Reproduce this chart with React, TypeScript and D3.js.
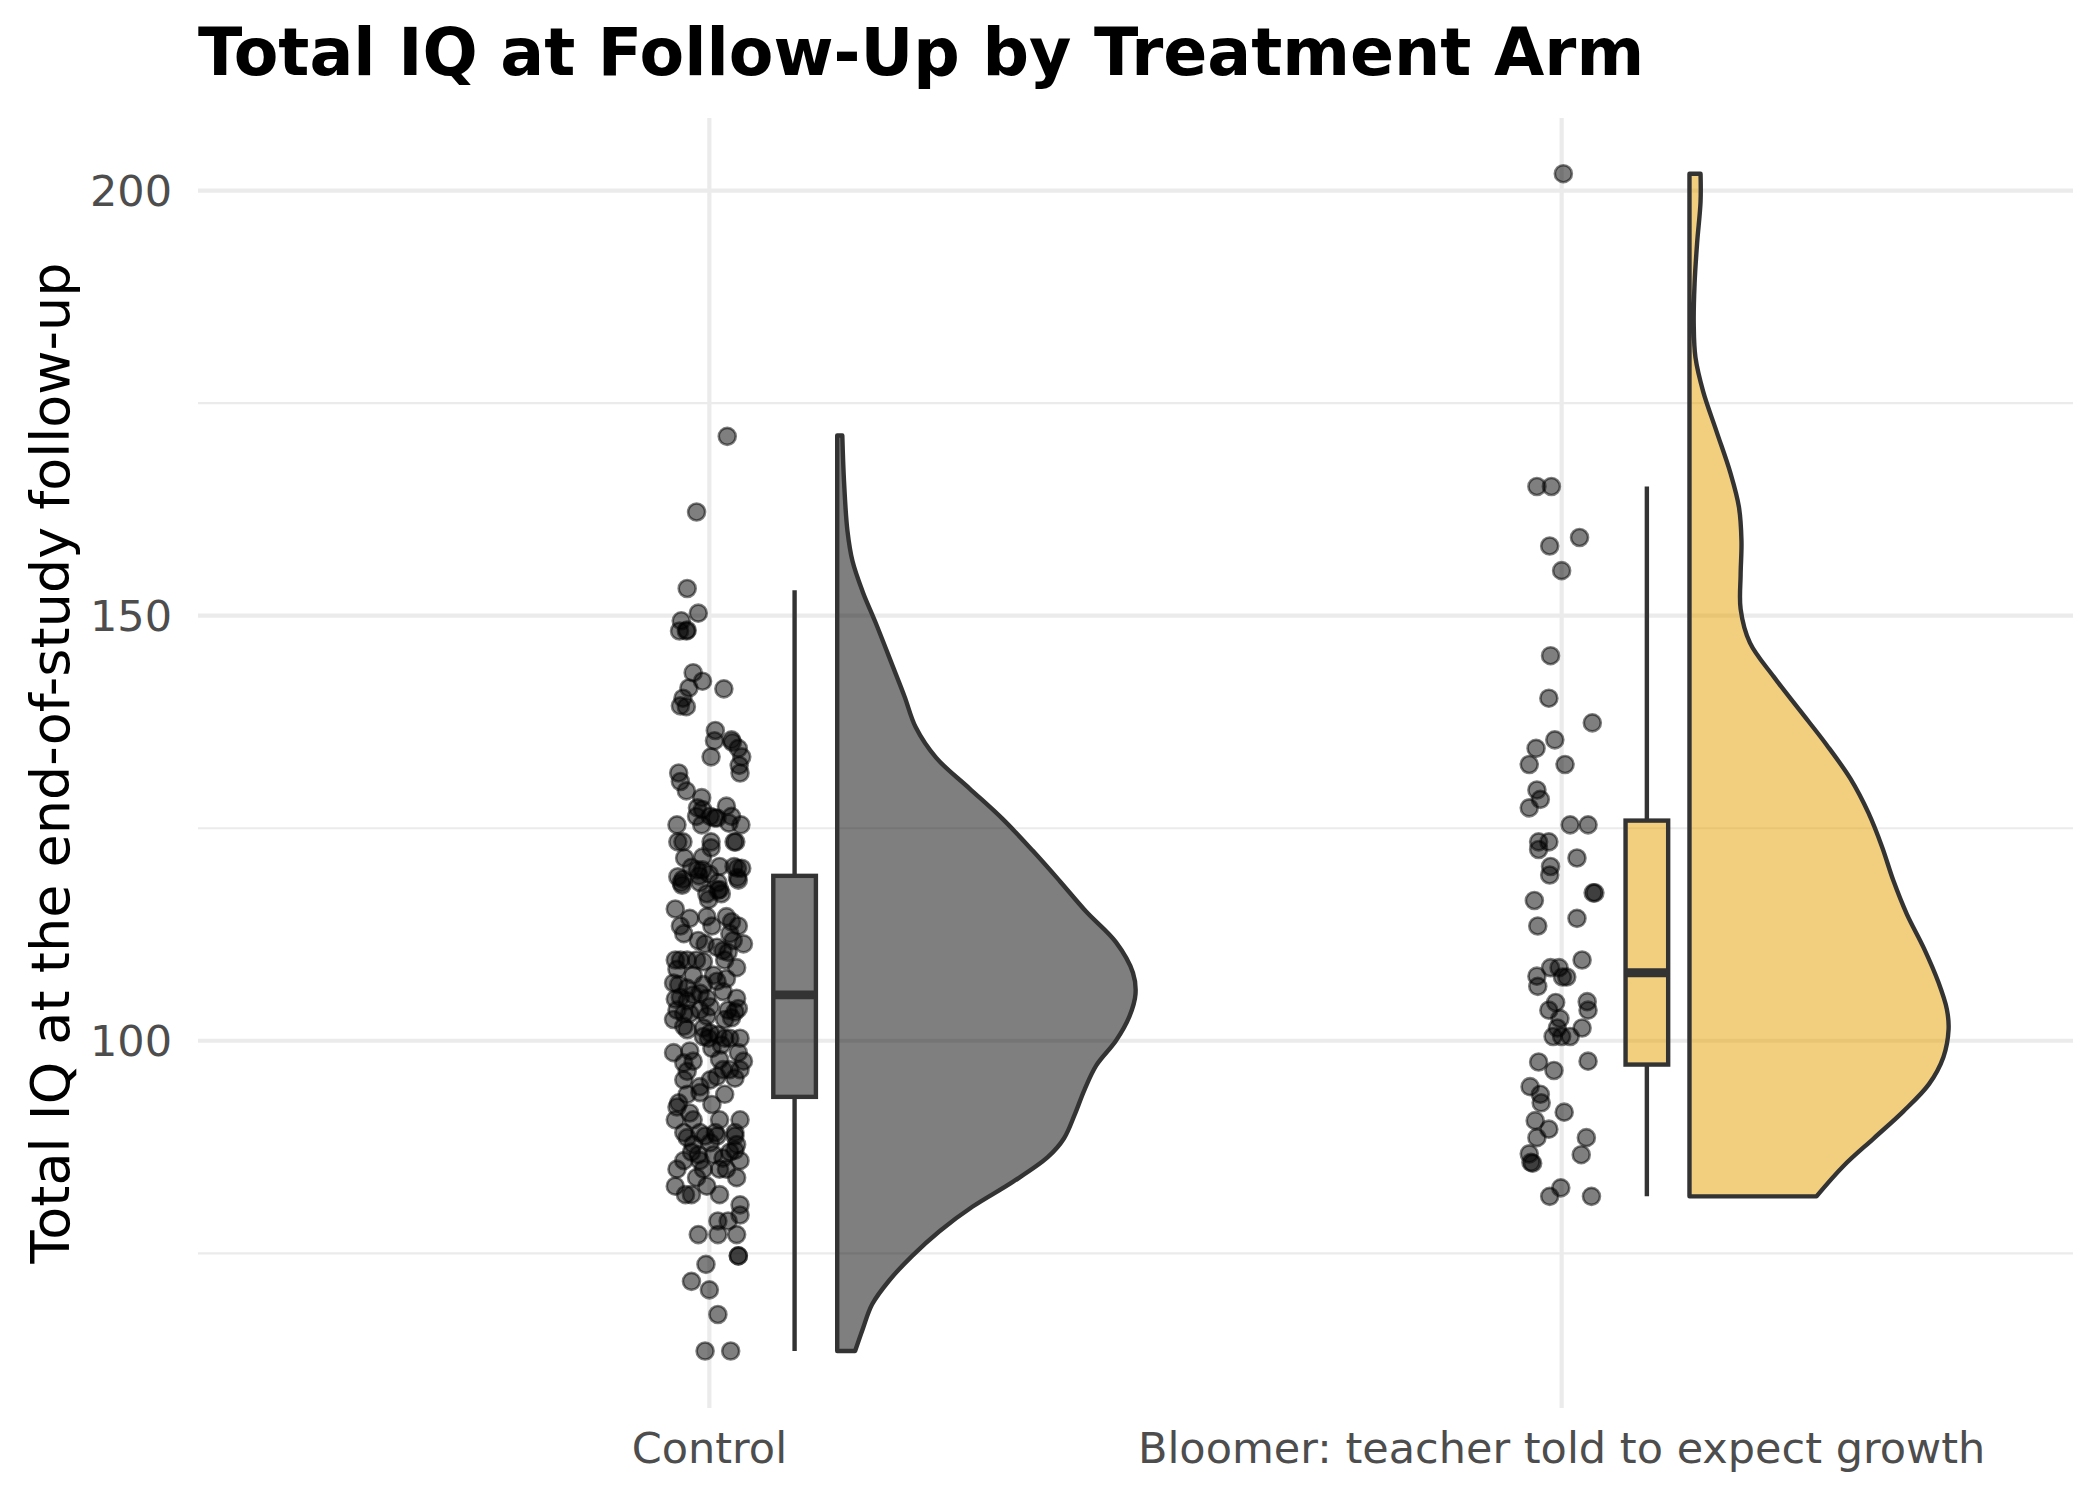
import React from 'react';
import * as d3 from 'd3';

// groups on the x axis
const categories = ['Control', 'Bloomer: teacher told to expect growth'];
const fills = ['#000000', '#E69F00'];

const yTicks = [100, 150, 200];
const yMinorTicks = [75, 125, 175];

// box stats: [lowWhisker, q1, median, q3, highWhisker]
const controlBox = [63.5, 93.4, 105.4, 119.4, 153.0];
const bloomerBox = [81.7, 97.2, 108.0, 125.9, 165.2];

// half-violin outline: [iq, half width in category units]
const controlDensity = [
  [171.2, 0.006], [165.8, 0.008], [160.0, 0.012], [156.4, 0.018], [152.8, 0.03], [149.2, 0.045],
  [144.1, 0.065], [140.5, 0.079], [136.9, 0.092], [133.3, 0.116], [129.7, 0.155], [126.1, 0.194],
  [122.4, 0.229], [118.8, 0.261], [115.2, 0.292], [111.6, 0.327], [108.0, 0.347], [105.5, 0.35],
  [102.9, 0.343], [100.0, 0.327], [97.1, 0.304], [94.2, 0.29], [91.4, 0.279], [88.5, 0.266],
  [86.3, 0.247], [83.4, 0.206], [80.5, 0.159], [77.6, 0.12], [74.7, 0.088], [71.8, 0.061],
  [69.0, 0.041], [66.1, 0.03], [63.5, 0.021],
];
const bloomerDensity = [
  [202.0, 0.013], [198.7, 0.013], [193.9, 0.009], [189.1, 0.006], [184.3, 0.005], [180.4, 0.007],
  [176.4, 0.016], [171.6, 0.032], [166.8, 0.048], [162.8, 0.058], [158.8, 0.061], [154.8, 0.06],
  [150.8, 0.06], [146.8, 0.071], [142.8, 0.099], [138.8, 0.13], [134.8, 0.161], [130.8, 0.189],
  [126.8, 0.21], [122.8, 0.226], [118.9, 0.239], [114.9, 0.255], [110.9, 0.275], [106.9, 0.292],
  [103.7, 0.302], [101.3, 0.304], [98.1, 0.298], [94.9, 0.281], [91.7, 0.251], [88.5, 0.216],
  [85.3, 0.181], [81.7, 0.149],
];

// jittered raw points: [x jitter, iq]
const controlPoints = [
  [0.021, 171.1], [-0.015, 162.2], [-0.026, 153.2], [-0.013, 150.3], [-0.033, 149.4],
  [-0.035, 148.2], [-0.027, 148.2], [-0.026, 148.3], [-0.019, 143.3], [-0.008, 142.3],
  [-0.024, 141.5], [0.017, 141.4], [-0.031, 140.3], [-0.034, 139.4], [-0.027, 139.3],
  [0.007, 136.5], [0.006, 135.3], [0.026, 135.4], [0.027, 135.1], [0.034, 134.4],
  [0.038, 133.4], [0.035, 132.4], [0.036, 131.5], [0.002, 133.4], [-0.036, 131.5],
  [-0.034, 130.5], [-0.027, 129.4], [-0.009, 128.6], [-0.014, 127.4], [-0.008, 127.2],
  [0.02, 127.6], [0.001, 126.4], [0.006, 126.2], [0.009, 126.2], [0.026, 126.4],
  [-0.038, 125.4], [0.037, 125.4], [-0.015, 126.4], [-0.009, 125.4], [0.023, 125.6],
  [-0.037, 123.4], [-0.031, 123.4], [0.002, 123.4], [0.029, 123.4], [0.031, 123.4],
  [0.002, 122.7], [-0.029, 121.5], [-0.008, 121.6], [-0.021, 120.4], [-0.014, 120.1],
  [-0.008, 120.1], [0.012, 120.5], [0.029, 120.5], [0.033, 120.3], [0.038, 120.3],
  [-0.037, 119.3], [-0.031, 119.0], [-0.033, 118.6], [-0.012, 119.4], [0.0, 119.6],
  [0.033, 119.2], [0.01, 118.6], [0.012, 117.8], [-0.003, 117.3],
  [-0.032, 118.3], [-0.011, 118.6], [0.01, 117.7], [0.014, 117.3], [0.034, 118.9],
  [-0.04, 115.5], [-0.023, 114.4], [-0.003, 114.6], [0.02, 114.6], [0.026, 114.0],
  [-0.034, 113.5], [-0.03, 112.6], [0.003, 113.5], [0.034, 113.5], [-0.001, 116.6],
  [0.024, 112.6], [0.028, 111.8], [0.04, 111.4], [-0.013, 111.8], [-0.005, 111.4],
  [0.009, 111.0], [0.016, 110.6], [0.022, 110.4], [-0.04, 109.5], [-0.034, 109.5],
  [-0.026, 109.5], [-0.015, 109.5], [-0.007, 109.3], [0.018, 109.5], [-0.038, 108.4],
  [0.032, 108.6], [-0.019, 107.7], [0.005, 107.7], [0.02, 107.3], [-0.042, 106.8],
  [-0.036, 106.6], [-0.026, 106.2], [-0.007, 106.6], [0.009, 107.0], [-0.019, 105.4],
  [-0.011, 105.6], [-0.003, 105.0], [0.016, 105.8], [0.032, 105.0], [-0.04, 104.9],
  [-0.034, 105.1], [-0.026, 104.7], [-0.038, 103.6], [-0.03, 103.2], [-0.011, 103.6],
  [0.001, 104.0], [0.022, 103.6], [0.03, 103.4], [0.034, 103.8], [-0.042, 102.5],
  [-0.03, 101.7], [-0.023, 103.2], [-0.003, 102.9], [0.018, 102.5], [0.026, 102.7],
  [-0.026, 101.3], [-0.007, 101.5], [0.001, 100.9], [0.01, 100.7], [0.018, 100.3],
  [0.036, 100.3], [-0.007, 100.5], [-0.001, 100.3], [0.003, 99.1], [0.014, 99.5],
  [0.024, 100.3], [-0.042, 98.6], [-0.023, 98.8], [-0.019, 97.6], [0.012, 97.8],
  [0.034, 98.6], [0.04, 97.6], [-0.03, 97.4], [-0.026, 96.4], [0.016, 96.6],
  [0.024, 96.6], [0.036, 96.6], [-0.03, 95.4], [-0.011, 94.6], [0.001, 95.4],
  [0.009, 95.8], [0.03, 95.6], [-0.026, 93.7], [-0.011, 93.9], [0.003, 92.5],
  [0.018, 93.7], [-0.036, 92.7], [-0.038, 92.2], [-0.04, 90.7], [-0.023, 91.5],
  [-0.019, 90.7], [0.012, 90.7], [0.036, 90.7], [-0.03, 89.2], [-0.011, 89.2],
  [0.007, 89.2], [0.03, 89.2],
  [-0.026, 88.6], [-0.005, 88.8], [0.009, 88.8], [0.03, 88.8], [-0.019, 87.8],
  [0.001, 88.0], [0.032, 87.8], [-0.021, 86.9], [-0.013, 86.6], [0.024, 86.9],
  [0.03, 87.1], [-0.03, 85.9], [-0.011, 85.9], [0.005, 86.6], [0.016, 86.2],
  [0.036, 85.9], [-0.038, 84.9], [-0.007, 84.9], [0.012, 84.9], [0.02, 84.9],
  [-0.015, 83.9], [0.032, 83.9], [-0.04, 82.9], [-0.003, 82.9], [-0.028, 81.9],
  [-0.021, 81.9], [0.012, 81.9], [0.036, 80.7], [0.036, 79.5], [0.01, 78.8],
  [0.022, 78.8], [-0.013, 77.2], [0.01, 77.2], [0.032, 77.2], [0.034, 74.7],
  [0.034, 74.7], [-0.004, 73.7], [-0.021, 71.7], [0.0, 70.7], [0.01, 67.8],
  [-0.005, 63.5], [0.025, 63.5],
];

const bloomerPoints = [
  [0.002, 202.0],
  [-0.029, 165.2], [-0.012, 165.2], [0.021, 159.2], [-0.014, 158.2], [0.0, 155.3],
  [-0.013, 145.3], [-0.015, 140.3], [0.036, 137.4], [-0.008, 135.4], [-0.03, 134.4],
  [-0.038, 132.5], [0.004, 132.5], [-0.029, 129.5], [-0.025, 128.4], [-0.038, 127.4],
  [0.01, 125.4], [0.031, 125.4], [-0.027, 123.4], [-0.015, 123.4], [-0.027, 122.5],
  [0.018, 121.5], [-0.013, 120.5], [-0.014, 119.5], [0.037, 117.4], [0.039, 117.4],
  [-0.032, 116.5], [0.018, 114.4], [-0.028, 113.5], [0.024, 109.5], [-0.029, 107.6],
  [-0.028, 106.4], [-0.013, 108.6], [-0.003, 108.6], [0.001, 107.5], [0.006, 107.5],
  [-0.007, 104.5], [-0.015, 103.6], [0.03, 104.6], [0.031, 103.6], [-0.002, 102.6],
  [-0.005, 101.5], [0.024, 101.5], [-0.01, 100.5], [0.0, 100.5], [0.01, 100.5],
  [-0.027, 97.5], [0.031, 97.6], [-0.009, 96.5], [-0.037, 94.6], [-0.025, 93.7],
  [-0.024, 92.7], [0.003, 91.6], [-0.031, 90.6], [-0.015, 89.6], [-0.029, 88.6],
  [0.029, 88.6], [0.023, 86.6], [-0.038, 86.7], [-0.036, 85.7], [-0.034, 85.6],
  [-0.001, 82.7], [-0.014, 81.7], [0.035, 81.7],
];

const groups = [
  { box: controlBox, density: controlDensity, points: controlPoints },
  { box: bloomerBox, density: bloomerDensity, points: bloomerPoints },
];

const W = 2100;
const H = 1500;
const panel = { left: 198, right: 2073, top: 118, bottom: 1408 };
const ink = '#333333';
const font = '"DejaVu Sans", Verdana, sans-serif';

const App: React.FC = () => {
  const x = d3.scaleLinear().domain([0.4, 2.6]).range([panel.left, panel.right]);
  const y = d3.scaleLinear().domain([56.8, 208.55]).range([panel.bottom, panel.top]);

  const violinOffset = 0.15;
  const boxOffset = 0.1;
  const boxHalf = 0.025;

  return (
    <svg width={W} height={H} style={{ position: 'absolute', left: 0, top: 0 }}>
      <rect width={W} height={H} fill="#ffffff" />

      {/* grid */}
      {yMinorTicks.map((t) => (
        <line key={'m' + t} x1={panel.left} x2={panel.right} y1={y(t)} y2={y(t)} stroke="#EBEBEB" strokeWidth={2.2} />
      ))}
      {yTicks.map((t) => (
        <line key={'g' + t} x1={panel.left} x2={panel.right} y1={y(t)} y2={y(t)} stroke="#EBEBEB" strokeWidth={4.2} />
      ))}
      {categories.map((c, i) => (
        <line key={'v' + c} x1={x(i + 1)} x2={x(i + 1)} y1={panel.top} y2={panel.bottom} stroke="#EBEBEB" strokeWidth={4.2} />
      ))}

      {groups.map((g, i) => {
        const pos = i + 1;
        const area = d3
          .area<number[]>()
          .y((d) => y(d[0]))
          .x0(() => x(pos + violinOffset))
          .x1((d) => x(pos + violinOffset + d[1]))
          .curve(d3.curveCatmullRom);
        const [lo, q1, med, q3, hi] = g.box;
        const bx = x(pos + boxOffset);
        return (
          <g key={categories[i]}>
            <path d={area(g.density) || ''} fill={fills[i]} fillOpacity={0.5} stroke={ink} strokeWidth={4.4} strokeLinejoin="round" />
            <line x1={bx} x2={bx} y1={y(hi)} y2={y(q3)} stroke={ink} strokeWidth={4.4} />
            <line x1={bx} x2={bx} y1={y(q1)} y2={y(lo)} stroke={ink} strokeWidth={4.4} />
            <rect
              x={x(pos + boxOffset - boxHalf)}
              width={x(pos + boxOffset + boxHalf) - x(pos + boxOffset - boxHalf)}
              y={y(q3)}
              height={y(q1) - y(q3)}
              fill={fills[i]}
              fillOpacity={0.5}
              stroke={ink}
              strokeWidth={4.4}
            />
            <line
              x1={x(pos + boxOffset - boxHalf)}
              x2={x(pos + boxOffset + boxHalf)}
              y1={y(med)}
              y2={y(med)}
              stroke={ink}
              strokeWidth={8.8}
            />
            {g.points.map((p, j) => (
              <circle
                key={j}
                cx={x(pos + p[0])}
                cy={y(p[1])}
                r={8.5}
                fill="#000000"
                fillOpacity={0.5}
                stroke="#000000"
                strokeOpacity={0.5}
                strokeWidth={2.6}
              />
            ))}
          </g>
        );
      })}

      {/* axes text */}
      {yTicks.map((t) => (
        <text key={'t' + t} x={172} y={y(t)} dy="0.36em" textAnchor="end" fontFamily={font} fontSize={43} fill="#4D4D4D">
          {t}
        </text>
      ))}
      {categories.map((c, i) => (
        <text key={'x' + c} x={x(i + 1)} y={1463} textAnchor="middle" fontFamily={font} fontSize={43} fill="#4D4D4D">
          {c}
        </text>
      ))}
      <text
        transform={`translate(69,${(panel.top + panel.bottom) / 2}) rotate(-90)`}
        textAnchor="middle"
        fontFamily={font}
        fontSize={54}
        fill="#000000"
      >
        Total IQ at the end-of-study follow-up
      </text>
      <text x={198} y={75} fontFamily={font} fontSize={65} fontWeight="bold" fill="#000000">
        Total IQ at Follow-Up by Treatment Arm
      </text>
    </svg>
  );
};

export default App;
